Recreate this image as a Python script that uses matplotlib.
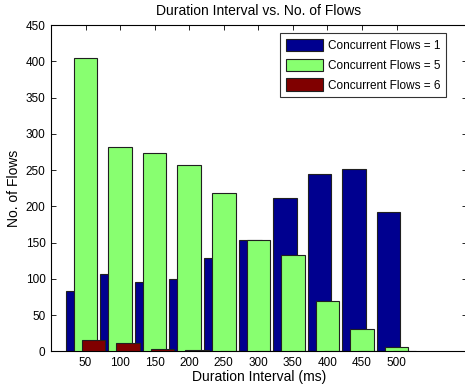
import matplotlib
matplotlib.use("Agg")
import matplotlib.pyplot as plt
import numpy as np

plt.rcParams['font.family'] = ['Liberation Sans', 'DejaVu Sans']

intervals = [50, 100, 150, 200, 250, 300, 350, 400, 450, 500]
flows_1 = [83, 107, 95, 100, 129, 154, 212, 244, 251, 192]
flows_5 = [404, 282, 274, 257, 219, 154, 133, 69, 31, 6]
flows_6 = [16, 12, 3, 2, 0, 0, 0, 0, 0, 0]
series_labels = ['Concurrent Flows = 1', 'Concurrent Flows = 5', 'Concurrent Flows = 6']
colors = ['#00008F', '#88FF70', '#800000']

fig = plt.figure(figsize=(4.65, 3.91), dpi=100)
ax = fig.add_axes([51/465, 1-351.3/391, (467-51)/465, (351.3-25)/391])

x = np.array(intervals, dtype=float)
offset = 11.6
width = 34
series = [flows_1, flows_5, flows_6]
for i, (vals, lab, col) in enumerate(zip(series, series_labels, colors)):
    ax.bar(x + (i - 1) * offset, vals, width=width, color=col, edgecolor='#202020',
           linewidth=0.8, label=lab, zorder=2 + i)

ax.set_xlim(0, 602)
ax.set_ylim(0, 450)
ax.set_xticks(intervals)
ax.set_yticks(np.arange(0, 451, 50))
ax.tick_params(direction='in', top=True, right=True, labelsize=8.5, length=3.5, width=0.6, pad=4)
for s in ax.spines.values():
    s.set_linewidth(0.8)

ax.set_title('Duration Interval vs. No. of Flows', fontsize=10, pad=7)
ax.set_xlabel('Duration Interval (ms)', fontsize=10, labelpad=1)
ax.set_ylabel('No. of Flows', fontsize=10, labelpad=3)

leg = ax.legend(loc='upper right', bbox_to_anchor=(446/465, 1-33/391), bbox_transform=fig.transFigure,
                fontsize=8.5, frameon=True, fancybox=False, handlelength=3.1, handleheight=1.25,
                borderpad=0.5, labelspacing=0.55, handletextpad=0.4, borderaxespad=0)
leg.get_frame().set_edgecolor('black')
leg.get_frame().set_linewidth(0.8)

fig.savefig('out.png', dpi=100)
